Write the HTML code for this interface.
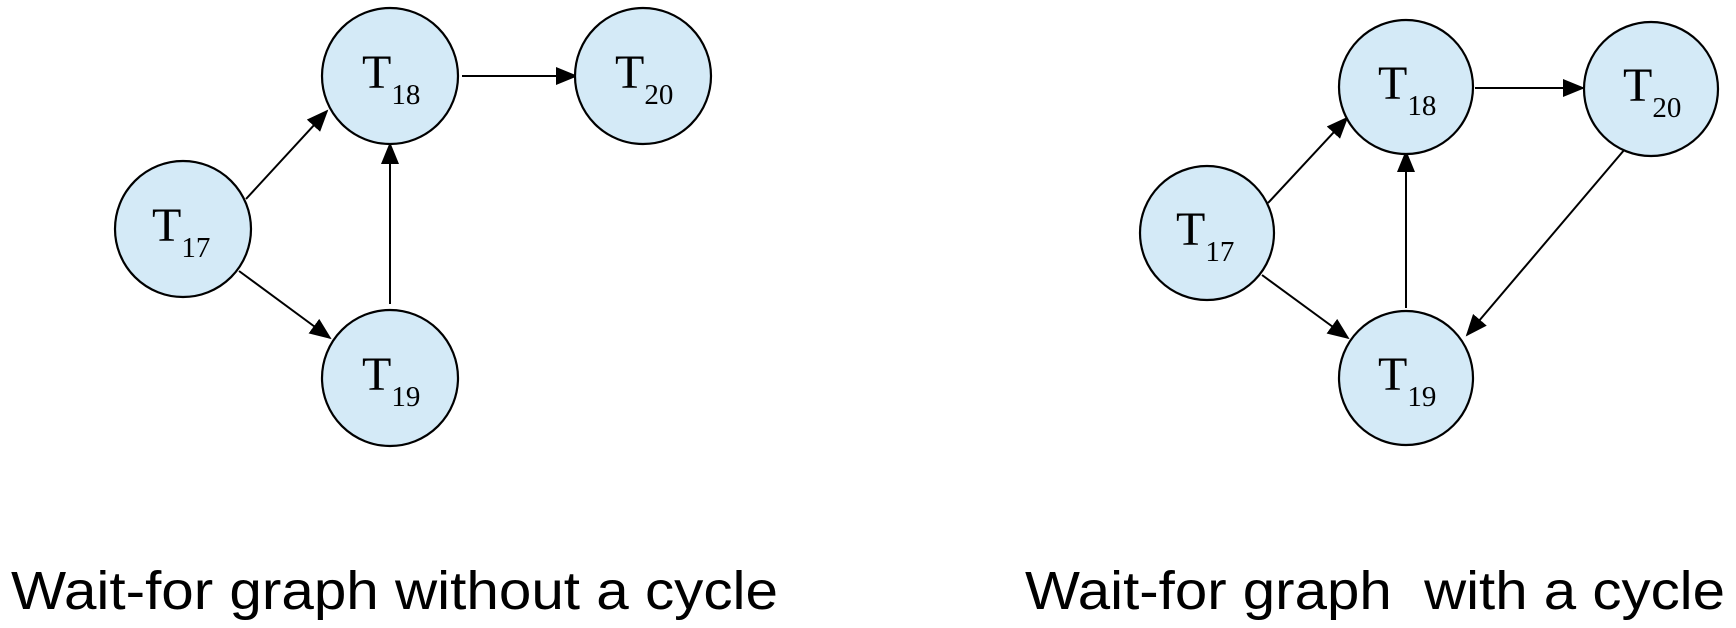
<!DOCTYPE html>
<html><head><meta charset="utf-8"><style>
html,body{margin:0;padding:0;background:#fff;}
svg{display:block}
.n{fill:#d4eaf7;stroke:#000;stroke-width:2.2}
.e{stroke:#000;stroke-width:2;fill:none}
.t{font-family:"Liberation Serif",serif;font-size:48px;fill:#000}
.s{font-size:29px}
.c{font-family:"Liberation Sans",sans-serif;font-size:54px;fill:#000}
</style></head><body>
<svg width="1736" height="628" viewBox="0 0 1736 628" xmlns="http://www.w3.org/2000/svg">
<defs>
<marker id="b" markerWidth="22" markerHeight="18" refX="20" refY="9" orient="auto" markerUnits="userSpaceOnUse"><path d="M0,0 L22,9 L0,18 z" fill="#000"/></marker></defs>
<style>.e{marker-end:url(#b)}</style>
<!-- left -->
<line class="e" x1="246" y1="199" x2="327" y2="111"/>
<line class="e" x1="239" y1="271" x2="330" y2="338"/>
<line class="e" x1="390" y1="304" x2="390" y2="144"/>
<line class="e" x1="462" y1="76" x2="576" y2="76"/>
<circle class="n" cx="390" cy="76" r="68"/>
<circle class="n" cx="643" cy="76" r="68"/>
<circle class="n" cx="183" cy="229" r="68"/>
<circle class="n" cx="390" cy="378" r="68"/>
<text class="t" x="362" y="88">T<tspan class="s" dy="16">18</tspan></text>
<text class="t" x="615" y="88">T<tspan class="s" dy="16">20</tspan></text>
<text class="t" x="152" y="241">T<tspan class="s" dy="16">17</tspan></text>
<text class="t" x="362" y="390">T<tspan class="s" dy="16">19</tspan></text>
<!-- right -->
<line class="e" x1="1268" y1="203" x2="1347" y2="118"/>
<line class="e" x1="1262" y1="275" x2="1348" y2="338"/>
<line class="e" x1="1406" y1="308" x2="1406" y2="152"/>
<line class="e" x1="1475" y1="88" x2="1583" y2="88"/>
<line class="e" x1="1625" y1="149" x2="1467" y2="335"/>
<circle class="n" cx="1406" cy="87" r="67"/>
<circle class="n" cx="1651" cy="89" r="67"/>
<circle class="n" cx="1207" cy="233" r="67"/>
<circle class="n" cx="1406" cy="378" r="67"/>
<text class="t" x="1378" y="99">T<tspan class="s" dy="16">18</tspan></text>
<text class="t" x="1623" y="101">T<tspan class="s" dy="16">20</tspan></text>
<text class="t" x="1176" y="245">T<tspan class="s" dy="16">17</tspan></text>
<text class="t" x="1378" y="390">T<tspan class="s" dy="16">19</tspan></text>
<text class="c" x="11" y="609" textLength="767" lengthAdjust="spacingAndGlyphs">Wait-for graph without a cycle</text>
<text class="c" x="1025" y="609" textLength="700" lengthAdjust="spacingAndGlyphs" xml:space="preserve">Wait-for graph  with a cycle</text>
</svg>
</body></html>
